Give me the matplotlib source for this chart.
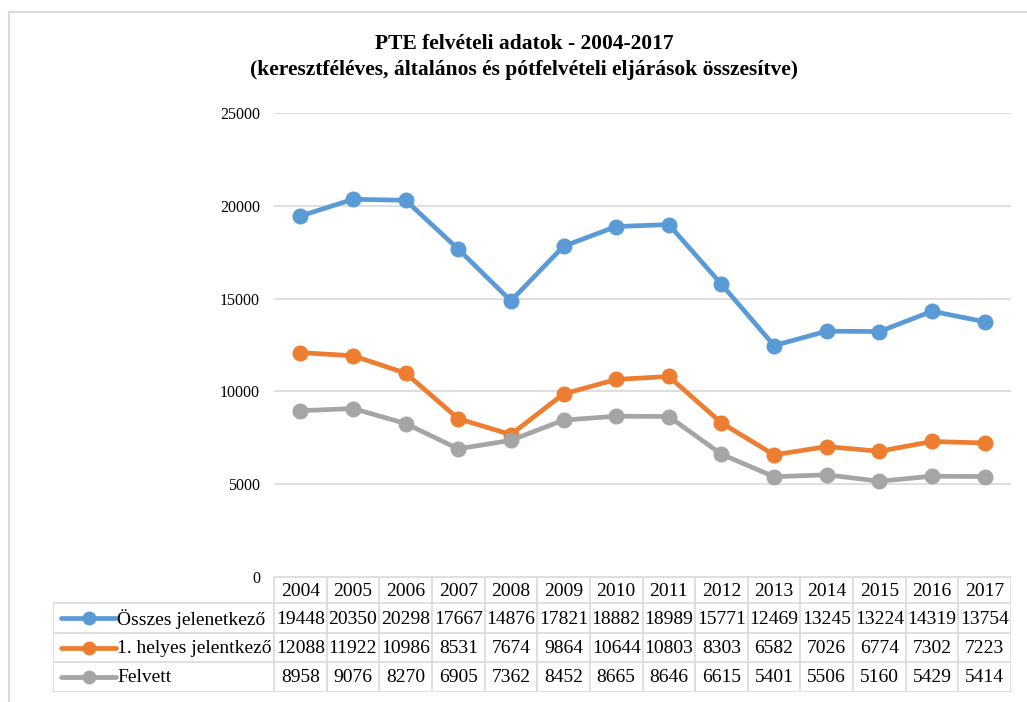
import matplotlib
matplotlib.use("Agg")
import matplotlib.pyplot as plt
from matplotlib.lines import Line2D

years = ["2004", "2005", "2006", "2007", "2008", "2009", "2010", "2011",
         "2012", "2013", "2014", "2015", "2016", "2017"]
osszes = [19448, 20350, 20298, 17667, 14876, 17821, 18882, 18989, 15771,
          12469, 13245, 13224, 14319, 13754]
helyes = [12088, 11922, 10986, 8531, 7674, 9864, 10644, 10803, 8303,
          6582, 7026, 6774, 7302, 7223]
felvett = [8958, 9076, 8270, 6905, 7362, 8452, 8665, 8646, 6615,
           5401, 5506, 5160, 5429, 5414]
series_names = ["Összes jelenetkező", "1. helyes jelentkező", "Felvett"]
series_values = [osszes, helyes, felvett]
colors = ["#5B9BD5", "#ED7D31", "#A5A5A5"]
yticks = [0, 5000, 10000, 15000, 20000, 25000]

plt.rcParams['font.family'] = ['Liberation Serif', 'DejaVu Serif']

W, H = 1027, 702
fig = plt.figure(figsize=(W / 100, H / 100), dpi=100)

def fx(px):
    return px / W

def fy(py):
    return 1 - py / H

grid_c = "#D9D9D9"

# outer border (left & top)
fig.add_artist(Line2D([fx(9), fx(9)], [fy(12), fy(H)], color=grid_c, lw=1.5))
fig.add_artist(Line2D([fx(9), fx(W)], [fy(12), fy(12)], color=grid_c, lw=1.5))

# main axes
x0, x1 = 274, 1011
ytop, ybot = 113, 577
ax = fig.add_axes([fx(x0), fy(ybot), fx(x1) - fx(x0), fy(ytop) - fy(ybot)])
n = len(years)
xs = list(range(n))
ax.set_xlim(-0.5, n - 0.5)
ax.set_ylim(0, 25000)
for s in ax.spines.values():
    s.set_visible(False)
ax.set_yticks(yticks)
ax.set_yticklabels([str(v) for v in yticks], fontsize=11.5)
ax.tick_params(axis='y', length=0, pad=10)
ax.set_xticks([])
ax.grid(axis='y', color=grid_c, lw=1.2)
ax.set_axisbelow(True)
for vals, c in zip(series_values, colors):
    ax.plot(xs, vals, color=c, lw=3.4, marker='o', markersize=10.5,
            solid_capstyle='round', zorder=3)

# title
fig.text(fx(524), fy(44), "PTE felvételi adatok - 2004-2017",
         ha='center', va='center', fontsize=15.5, fontweight='bold')
fig.text(fx(524), fy(70),
         "(keresztféléves, általános és pótfelvételi eljárások összesítve)",
         ha='center', va='center', fontsize=15.5, fontweight='bold')

# data table
tl = 53
col_w = (x1 - x0) / n
label_units = (x0 - tl) / col_w
tab_top, tab_bot = 577, 692
tax = fig.add_axes([fx(tl), fy(tab_bot), fx(x1) - fx(tl), fy(tab_top) - fy(tab_bot)])
tax.set_xlim(-0.5 - label_units, n - 0.5)
tax.set_ylim(tab_bot, tab_top)
tax.axis('off')
row_edges = [577, 603, 633, 662, 692]
lc = grid_c
lw = 1.2
tax.plot([-0.5, n - 0.5], [row_edges[0]] * 2, color=lc, lw=lw)
for y in row_edges[1:]:
    tax.plot([-0.5 - label_units, n - 0.5], [y, y], color=lc, lw=lw)
for i in range(n + 1):
    xv = i - 0.5
    tax.plot([xv, xv], [row_edges[0], row_edges[-1]], color=lc, lw=lw)
tax.plot([-0.5 - label_units] * 2, [row_edges[1], row_edges[-1]], color=lc, lw=lw)

fs = 14
for i, yr in enumerate(years):
    tax.text(i, (row_edges[0] + row_edges[1]) / 2 + 1, yr, ha='center',
             va='center', fontsize=fs)
for r, (name, vals, c) in enumerate(zip(series_names, series_values, colors)):
    yc = (row_edges[r + 1] + row_edges[r + 2]) / 2 + 1
    for i, v in enumerate(vals):
        tax.text(i, yc, str(v), ha='center', va='center', fontsize=fs)
    lx0 = -0.5 - label_units + 8 / col_w
    lx1 = -0.5 - label_units + 63 / col_w
    tax.plot([lx0, lx1], [yc - 1, yc - 1], color=c, lw=3.4,
             solid_capstyle='round')
    tax.plot([(lx0 + lx1) / 2], [yc - 1], marker='o', color=c, markersize=9)
    tax.text(-0.5 - label_units + 64 / col_w, yc, name, ha='left',
             va='center', fontsize=fs)

fig.savefig("out.png", dpi=100)
